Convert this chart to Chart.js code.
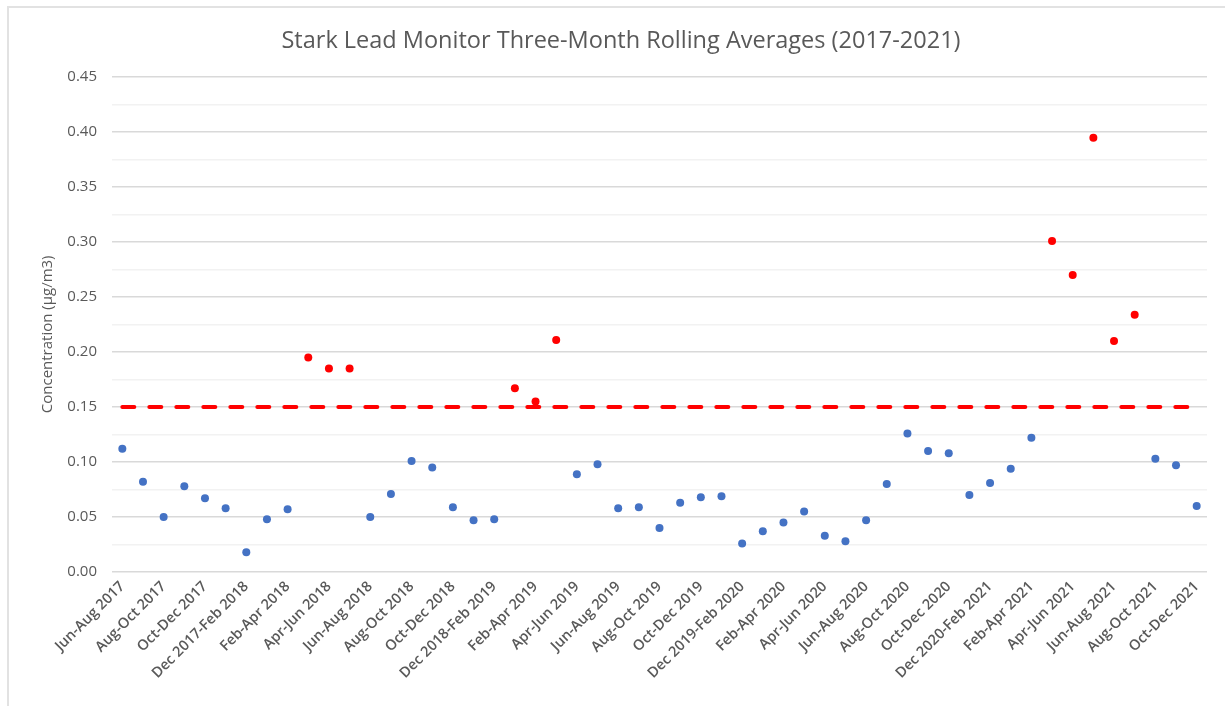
<!DOCTYPE html>
<html>
<head>
<meta charset="utf-8">
<script src="https://cdn.jsdelivr.net/npm/chart.js@4"></script>
<style>
  html, body { margin: 0; padding: 0; background: #fff; }
  #wrap { position: relative; width: 1225px; height: 706px; overflow: hidden; }
  #frame { position: absolute; left: 7px; top: 6px; width: 1400px; height: 900px; border: 2px solid #e2e2e2; }
  #myChart { position: absolute; left: 0; top: 0; }
</style>
</head>
<body>
<div id="wrap">
  <div id="frame"></div>
  <canvas id="myChart" width="1225" height="706"></canvas>
</div>
<script>
const periods = [
    'Jun-Aug 2017', 'Jul-Sep 2017', 'Aug-Oct 2017', 'Sep-Nov 2017', 'Oct-Dec 2017',
    'Nov 2017-Jan 2018', 'Dec 2017-Feb 2018', 'Jan-Mar 2018', 'Feb-Apr 2018', 'Mar-May 2018',
    'Apr-Jun 2018', 'May-Jul 2018', 'Jun-Aug 2018', 'Jul-Sep 2018', 'Aug-Oct 2018',
    'Sep-Nov 2018', 'Oct-Dec 2018', 'Nov 2018-Jan 2019', 'Dec 2018-Feb 2019', 'Jan-Mar 2019',
    'Feb-Apr 2019', 'Mar-May 2019', 'Apr-Jun 2019', 'May-Jul 2019', 'Jun-Aug 2019',
    'Jul-Sep 2019', 'Aug-Oct 2019', 'Sep-Nov 2019', 'Oct-Dec 2019', 'Nov 2019-Jan 2020',
    'Dec 2019-Feb 2020', 'Jan-Mar 2020', 'Feb-Apr 2020', 'Mar-May 2020', 'Apr-Jun 2020',
    'May-Jul 2020', 'Jun-Aug 2020', 'Jul-Sep 2020', 'Aug-Oct 2020', 'Sep-Nov 2020',
    'Oct-Dec 2020', 'Nov 2020-Jan 2021', 'Dec 2020-Feb 2021', 'Jan-Mar 2021', 'Feb-Apr 2021',
    'Mar-May 2021', 'Apr-Jun 2021', 'May-Jul 2021', 'Jun-Aug 2021', 'Jul-Sep 2021',
    'Aug-Oct 2021', 'Sep-Nov 2021', 'Oct-Dec 2021'
];

// three-month rolling averages, µg/m3
const rollingAvg = [
    0.112, 0.082, 0.050, 0.078, 0.067, 0.058, 0.018, 0.048, 0.057, 0.195,
    0.185, 0.185, 0.050, 0.071, 0.101, 0.095, 0.059, 0.047, 0.048, 0.167,
    0.155, 0.211, 0.089, 0.098, 0.058, 0.059, 0.040, 0.063, 0.068, 0.069,
    0.026, 0.037, 0.045, 0.055, 0.033, 0.028, 0.047, 0.080, 0.126, 0.110,
    0.108, 0.070, 0.081, 0.094, 0.122, 0.301, 0.270, 0.395, 0.210, 0.234,
    0.103, 0.097, 0.060
];

const standard = 0.15; // lead NAAQS
const standardLine = periods.map(() => standard);

const FONT = "'Open Sans', sans-serif";
const GREY = '#595959';

const ctx = document.getElementById('myChart').getContext('2d');
const myChart = new Chart(ctx, {
    type: 'line',
    data: {
        labels: periods,
        datasets: [{
            label: 'Rolling average',
            data: rollingAvg,
            showLine: false,
            pointRadius: 4,
            pointBorderWidth: 0,
            pointBackgroundColor: (c) => c.raw > standard ? '#FF0000' : '#4472C4',
        }, {
            label: 'Standard',
            data: standardLine,
            borderColor: '#FF0000',
            borderWidth: 4,
            borderDash: [12, 15],
            borderCapStyle: 'round',
            pointRadius: 0,
            fill: false,
        }]
    },
    options: {
        responsive: false,
        animation: false,
        layout: { padding: { left: 35, right: 18, top: 0, bottom: 0 } },
        plugins: {
            legend: { display: false },
            tooltip: { enabled: false },
            title: {
                display: true,
                text: 'Stark Lead Monitor Three-Month Rolling Averages (2017-2021)',
                color: GREY,
                font: { family: FONT, size: 23.5, weight: 'normal' },
                padding: { top: 27, bottom: 22 }
            }
        },
        scales: {
            x: {
                offset: true,
                border: { display: false },
                grid: { display: false, drawTicks: false },
                ticks: {
                    autoSkip: false,
                    minRotation: 45,
                    maxRotation: 45,
                    padding: 6,
                    color: GREY,
                    font: { family: FONT, size: 14.5, weight: '600' },
                    callback: function (val, i) { return i % 2 === 0 ? this.getLabelForValue(val) : ''; }
                },
                afterFit: (s) => { s.height = 134; }
            },
            y: {
                min: 0,
                max: 0.45,
                border: { display: false },
                grid: {
                    drawTicks: false,
                    color: (c) => c.index % 2 === 0 ? '#d9d9d9' : '#f2f2f2',
                    lineWidth: 1.5
                },
                ticks: {
                    stepSize: 0.025,
                    padding: 15,
                    color: GREY,
                    font: { family: FONT, size: 15 },
                    callback: (v, i) => i % 2 === 0 ? v.toFixed(2) : ''
                },
                title: {
                    display: true,
                    text: 'Concentration (µg/m3)\u00a0\u00a0\u00a0\u00a0\u00a0',
                    color: GREY,
                    font: { family: FONT, size: 15 },
                    padding: { top: 4, bottom: 0 }
                },
                afterFit: (s) => { s.width = 77; }
            }
        }
    }
});
</script>
</body>
</html>
